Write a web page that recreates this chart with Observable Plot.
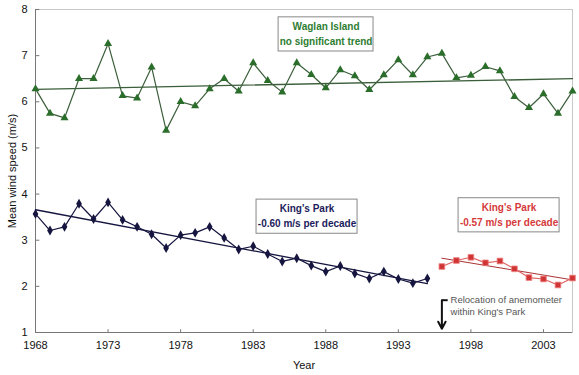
<!DOCTYPE html>
<html>
<head>
<meta charset="utf-8">
<script src="https://cdn.jsdelivr.net/npm/d3@7"></script>
<script src="https://cdn.jsdelivr.net/npm/@observablehq/plot@0.6"></script>
<style>
  html, body { margin: 0; padding: 0; background: #fff; }
  svg { font-family: "Liberation Sans", Arial, sans-serif; }
</style>
</head>
<body>
<div id="chart"></div>
<script>
// ---- data ----
const waglanYears = d3.range(1968, 2006);
const waglanSpeed = [6.28, 5.75, 5.65, 6.50, 6.50, 7.26, 6.13, 6.08, 6.75, 5.38,
                     6.00, 5.91, 6.28, 6.50, 6.23, 6.84, 6.46, 6.21, 6.84, 6.59,
                     6.30, 6.69, 6.56, 6.26, 6.58, 6.91, 6.58, 6.97, 7.05, 6.52,
                     6.57, 6.76, 6.67, 6.11, 5.87, 6.17, 5.75, 6.23];
const kpOldYears = d3.range(1968, 1996);
const kpOldSpeed = [3.57, 3.21, 3.29, 3.79, 3.46, 3.82, 3.44, 3.29, 3.13, 2.83,
                    3.11, 3.16, 3.29, 3.05, 2.80, 2.87, 2.70, 2.54, 2.61, 2.45,
                    2.32, 2.44, 2.28, 2.17, 2.32, 2.16, 2.07, 2.17];
const kpNewYears = d3.range(1996, 2006);
const kpNewSpeed = [2.43, 2.56, 2.63, 2.51, 2.55, 2.38, 2.19, 2.16, 2.03, 2.18];

// trend lines (endpoints)
const waglanTrendYears = [1968, 2005];
const waglanTrendSpeed = [6.27, 6.50];
const kpOldTrendYears = [1968, 1995];
const kpOldTrendSpeed = [3.66, 2.06];
const kpNewTrendYears = [1996, 2005];
const kpNewTrendSpeed = [2.61, 2.14];

// axis ticks
const xTicks = [1968, 1973, 1978, 1983, 1988, 1993, 1998, 2003];
const yTicks = [1, 2, 3, 4, 5, 6, 7, 8];

// annotations
const boxLabels = [
  {line1: "Waglan Island", line2: "no significant trend", color: "#2e7d32", x: 1988.02, y: 7.46, hw: 3.27},
  {line1: "King's Park", line2: "-0.60 m/s per decade", color: "#1c1c5c", x: 1986.71, y: 3.51, hw: 3.48},
  {line1: "King's Park", line2: "-0.57 m/s per decade", color: "#d43a3a", x: 2000.63, y: 3.54, hw: 3.48}
];
const relocationYear = 1996;
const relocationText = ["Relocation of anemometer", "within King's Park"];

// ---- build tables ----
const wag = waglanYears.map((y, i) => ({year: y, v: waglanSpeed[i]}));
const kpo = kpOldYears.map((y, i) => ({year: y, v: kpOldSpeed[i]}));
const kpn = kpNewYears.map((y, i) => ({year: y, v: kpNewSpeed[i]}));
const trend = (ys, vs) => ys.map((y, i) => ({year: y, v: vs[i]}));

const green = "#2b6e2b", greenLine = "#3b5e3b";
const navy = "#15153f";
const red = "#d03535";
const boxH = 0.37;

const chart = Plot.plot({
  width: 579,
  height: 375,
  marginLeft: 35,
  marginRight: 7,
  marginTop: 9,
  marginBottom: 43,
  style: {fontFamily: "'Liberation Sans', Arial, sans-serif", fontSize: "11px", color: "#111", background: "#fff"},
  x: {domain: [1968, 2005], ticks: xTicks, tickFormat: "d", tickSize: 0, tickPadding: 9,
      label: "Year", labelAnchor: "center", labelOffset: 36, labelArrow: "none"},
  y: {domain: [1, 8], ticks: yTicks, tickFormat: "d", tickSize: 0, tickPadding: 8,
      label: "Mean wind speed (m/s)", labelAnchor: "center", labelOffset: 27, labelArrow: "none"},
  marks: [
    Plot.frame({stroke: "#c8c8c8"}),
    Plot.ruleY([1], {stroke: "#777"}),
    Plot.ruleX([1968], {stroke: "#777"}),
    Plot.ruleX(xTicks.slice(1), {y1: 1, y2: 1.06, stroke: "#777"}),
    Plot.ruleY(yTicks.slice(1), {x1: 1968, x2: 1968.3, stroke: "#777"}),

    // trend lines
    Plot.line(trend(waglanTrendYears, waglanTrendSpeed), {x: "year", y: "v", stroke: greenLine, strokeWidth: 1.3}),
    Plot.line(trend(kpOldTrendYears, kpOldTrendSpeed), {x: "year", y: "v", stroke: navy, strokeWidth: 1.3}),
    Plot.line(trend(kpNewTrendYears, kpNewTrendSpeed), {x: "year", y: "v", stroke: "#a33", strokeWidth: 1}),

    // series
    Plot.line(wag, {x: "year", y: "v", stroke: greenLine, strokeWidth: 1.2}),
    Plot.dot(wag, {x: "year", y: "v", symbol: "triangle", r: 3, fill: green, stroke: "none"}),
    Plot.line(kpo, {x: "year", y: "v", stroke: navy, strokeWidth: 1.2}),
    Plot.dot(kpo, {x: "year", y: "v", symbol: "diamond", r: 3, fill: navy, stroke: "none"}),
    Plot.line(kpn, {x: "year", y: "v", stroke: "#e06060", strokeWidth: 1.2}),
    Plot.dot(kpn, {x: "year", y: "v", symbol: "square", r: 3.2, fill: red, stroke: "#f08080", strokeWidth: 0.8}),

    // label boxes
    Plot.rect(boxLabels, {x1: d => d.x - d.hw, x2: d => d.x + d.hw, y1: d => d.y - boxH, y2: d => d.y + boxH,
                          fill: "white", stroke: "#888", strokeWidth: 1}),
    Plot.text(boxLabels, {x: "x", y: "y", text: "line1", dy: -7.5, fill: "color", fontWeight: "bold", fontSize: 10}),
    Plot.text(boxLabels, {x: "x", y: "y", text: "line2", dy: 7.5, fill: "color", fontWeight: "bold", fontSize: 10}),

    // relocation annotation
    Plot.arrow([{x: relocationYear}], {x1: "x", x2: "x", y1: 1.70, y2: 1.08, stroke: "#111", strokeWidth: 2, headLength: 6, headAngle: 55}),
    Plot.link([{x: relocationYear}], {x1: "x", x2: d => d.x + 0.4, y1: 1.70, y2: 1.70, stroke: "#111", strokeWidth: 2}),
    Plot.text(relocationText, {x: relocationYear + 0.6, y: (d, i) => 1.715 - i * 0.26, text: d => d,
                               textAnchor: "start", fill: "#555", fontSize: 9.5})
  ]
});
document.getElementById("chart").appendChild(chart);
</script>
</body>
</html>
